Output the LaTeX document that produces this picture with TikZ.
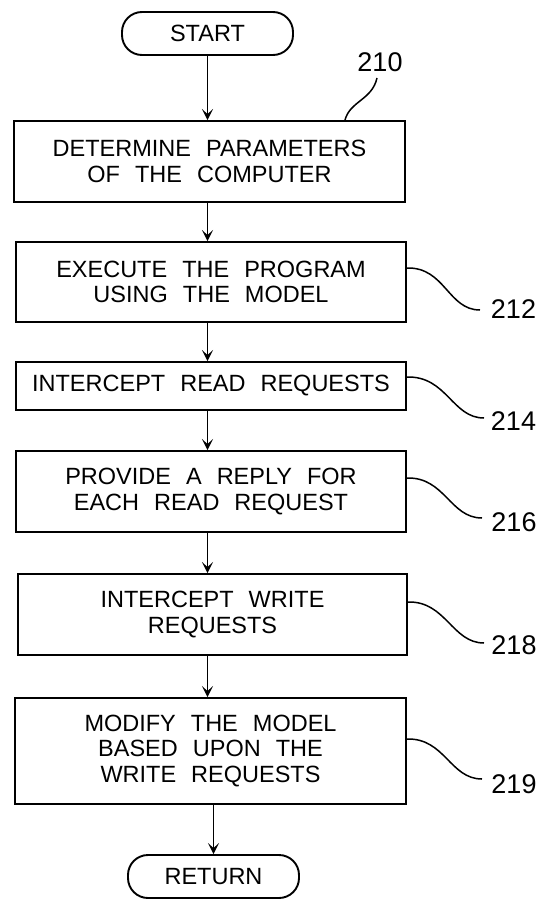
\documentclass[tikz,border=0pt]{standalone}
\usepackage{fontspec}
\setmainfont[WordSpace=2.3]{Liberation Sans}
\usetikzlibrary{arrows.meta,calc}
\begin{document}
\begin{tikzpicture}[x=1pt,y=-1pt,
  every node/.style={font=\fontsize{23.5}{25.5}\selectfont},
  box/.style={draw,line width=1.9pt,align=center,inner sep=0pt,rectangle},
  term/.style={draw,line width=1.9pt,rounded corners=20pt,minimum width=171pt,minimum height=43pt,inner sep=0pt},
  arr/.style={line width=1.5pt,-{Stealth[length=11pt,width=11pt,inset=5pt]}},
  lead/.style={line width=1.5pt},
  lbl/.style={font=\fontsize{27}{29}\selectfont,inner sep=0pt}]
\useasboundingbox (0,0) rectangle (539,899);
\node[term] (s) at (207.5,33.5) {START};
\node[box,minimum width=391pt,minimum height=81pt] (b1) at (209.5,161.5) {DETERMINE PARAMETERS\\OF THE COMPUTER};
\node[box,minimum width=390pt,minimum height=80pt] (b2) at (211,282) {EXECUTE THE PROGRAM\\USING THE MODEL};
\node[box,minimum width=390pt,minimum height=48pt] (b3) at (211,386) {INTERCEPT READ REQUESTS};
\node[box,minimum width=390pt,minimum height=81pt] (b4) at (211,491.5) {PROVIDE A REPLY FOR\\EACH READ REQUEST};
\node[box,minimum width=389pt,minimum height=81pt] (b5) at (212.5,614.5) {INTERCEPT WRITE\\REQUESTS};
\node[box,minimum width=391pt,minimum height=106pt] (b6) at (210.5,751) {MODIFY THE MODEL\\BASED UPON THE\\WRITE REQUESTS};
\node[term] (r) at (213.5,876.5) {RETURN};

\draw[arr] (s.south) -- (s.south |- b1.north);
\draw[arr] (b1.south -| s.south) -- (b2.north -| s.south);
\draw[arr] (b2.south -| s.south) -- (b3.north -| s.south);
\draw[arr] (b3.south -| s.south) -- (b4.north -| s.south);
\draw[arr] (b4.south -| s.south) -- (b5.north -| s.south);
\draw[arr] (b5.south -| s.south) -- (b6.north -| s.south);
\draw[arr] (b6.south -| r.north) -- (r.north);

\node[lbl] (l210) at (380,62) {210};
\node[lbl] (l212) at (513.5,309) {212};
\node[lbl] (l214) at (513.5,421) {214};
\node[lbl] (l216) at (514,522) {216};
\node[lbl] (l218) at (514,645) {218};
\node[lbl] (l219) at (514,784) {219};

\coordinate (e210) at (377,78);
\coordinate (e212) at (480,310);
\coordinate (e214) at (484,418);
\coordinate (e216) at (482,518);
\coordinate (e218) at (484,643);
\coordinate (e219) at (482,779);

\draw[lead] ([xshift=135.5pt]b1.north) .. controls +(5,-19) and +(-5,22) .. (e210);
\draw[lead] ([yshift=14pt]b2.east) .. controls +(38,-1) and +(-32,0) .. (e212);
\draw[lead] ([yshift=9pt]b3.east) .. controls +(40,-1) and +(-32,0) .. (e214);
\draw[lead] ([yshift=13.5pt]b4.east) .. controls +(38,-1) and +(-32,0) .. (e216);
\draw[lead] ([yshift=12.5pt]b5.east) .. controls +(38,-1) and +(-32,0) .. (e218);
\draw[lead] ([yshift=12pt]b6.east) .. controls +(38,-1) and +(-32,0) .. (e219);
\end{tikzpicture}
\end{document}
